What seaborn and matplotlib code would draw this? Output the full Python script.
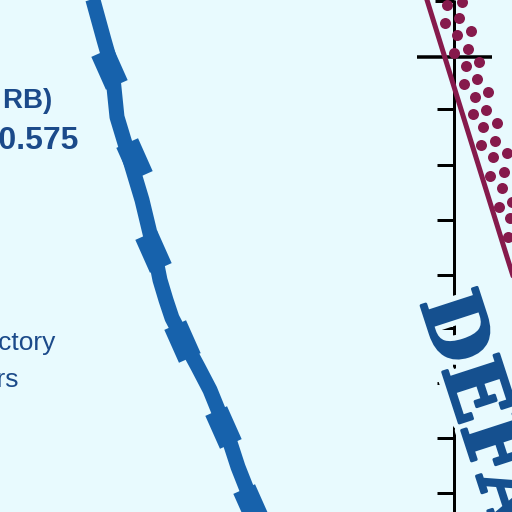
import numpy as np
import pandas as pd
import matplotlib
matplotlib.use("Agg")
import matplotlib.pyplot as plt
import matplotlib.patheffects as pe
from matplotlib.markers import MarkerStyle
import seaborn as sns

# ---- data (pixel-like coordinate space 0..512, y down) ----
curve_x = [80, 93, 104, 112, 117, 130, 142, 154, 160, 166, 172, 184, 198, 210, 225, 238, 253, 258, 270]
curve_y = [-40, 0, 40, 68, 117, 160, 200, 250, 280, 300, 318, 341, 367, 390, 427, 467, 505, 512, 550]

marker_x = [109, 134, 153, 182, 223, 251]
marker_y = [68, 159, 251, 341, 427, 505]

diag_x = [420, 427, 507, 520]
diag_y = [-22, 0, 257, 298]

dot_x = [447, 462, 445, 459, 457, 471, 454, 468, 466, 479, 464, 477, 475, 488, 473, 486,
         483, 497, 481, 495, 493, 507, 490, 504, 502, 499, 512, 510, 508]
dot_y = [5, 2, 23, 18, 35, 31, 53, 49, 66, 62, 84, 79, 97, 92, 114, 110,
         127, 123, 145, 141, 157, 153, 176, 172, 188, 207, 202, 218, 237]

axis_x = 454
tick_y = [109, 165, 220, 275, 328, 383, 438, 493]
top_tick_y = 1
cross_y = 57

big_label = "DEFAULT"
label_lines = ["(AUC RB)", "EER = 0.575", "Trajectory", "detectors"]

BG = "#E8FAFE"
BLUE = "#1762AC"
TXT = "#1B4A8A"
MAROON = "#861A4C"

sns.set_theme(style="white", rc={"axes.facecolor": BG, "figure.facecolor": BG})

fig = plt.figure(figsize=(5.12, 5.12), dpi=100)
ax = fig.add_axes([0, 0, 1, 1])
ax.set_facecolor(BG)
PT = 0.72  # points per pixel at 100 dpi

# blue curve
curve = pd.DataFrame({"x": curve_x, "y": curve_y})
sns.lineplot(data=curve, x="x", y="y", sort=False, estimator=None, color=BLUE,
             linewidth=15 * PT, solid_capstyle="butt", ax=ax, zorder=3)
rect = [(-0.33, -0.5), (0.33, -0.5), (0.33, 0.5), (-0.33, 0.5)]
ms = MarkerStyle(rect).rotated(deg=24)
ax.plot(marker_x, marker_y, linestyle="none", marker=ms, markersize=36 * PT,
        color=BLUE, markeredgewidth=0, zorder=3)

# axis with ticks
ax.vlines(axis_x, 0, 512, color="black", linewidth=3 * PT, zorder=2)
ax.hlines(tick_y, axis_x - 17, axis_x, color="black", linewidth=3 * PT, zorder=2)
ax.hlines([top_tick_y], axis_x - 19, axis_x, color="black", linewidth=3 * PT, zorder=2)
ax.hlines([cross_y], axis_x - 37, axis_x + 38, color="black", linewidth=3.5 * PT, zorder=2)

# maroon line and dots
ax.plot(diag_x, diag_y, color=MAROON, linewidth=5 * PT, zorder=4)
dots = pd.DataFrame({"x": dot_x, "y": dot_y})
sns.scatterplot(data=dots, x="x", y="y", color=MAROON, s=(11 * PT) ** 2,
                linewidth=0, ax=ax, zorder=4)

# texts
ax.text(52, 108, label_lines[0], ha="right", va="baseline", fontsize=20,
        color=TXT, family="Liberation Sans", fontweight="bold", zorder=5)
ax.text(78, 149, label_lines[1], ha="right", va="baseline", fontsize=23,
        fontweight="bold", color=TXT, family="Liberation Sans", zorder=5)
ax.text(56, 350, label_lines[2], ha="right", va="baseline", fontsize=19,
        color=TXT, family="Liberation Sans", zorder=5)
ax.text(19, 387, label_lines[3], ha="right", va="baseline", fontsize=19,
        color=TXT, family="Liberation Sans", zorder=5)

BIGC = "#15508F"
t = ax.text(420, 302, big_label, rotation=-72, rotation_mode="anchor",
            ha="left", va="baseline", fontsize=58, fontweight="bold",
            color=BIGC, family="DejaVu Serif", zorder=6)
t.set_path_effects([pe.Stroke(linewidth=10, foreground=BG),
                    pe.Stroke(linewidth=2.2, foreground=BIGC), pe.Normal()])

ax.set_xlim(0, 512)
ax.set_ylim(512, 0)
ax.axis("off")
fig.savefig("out.png", dpi=100, facecolor=BG)
